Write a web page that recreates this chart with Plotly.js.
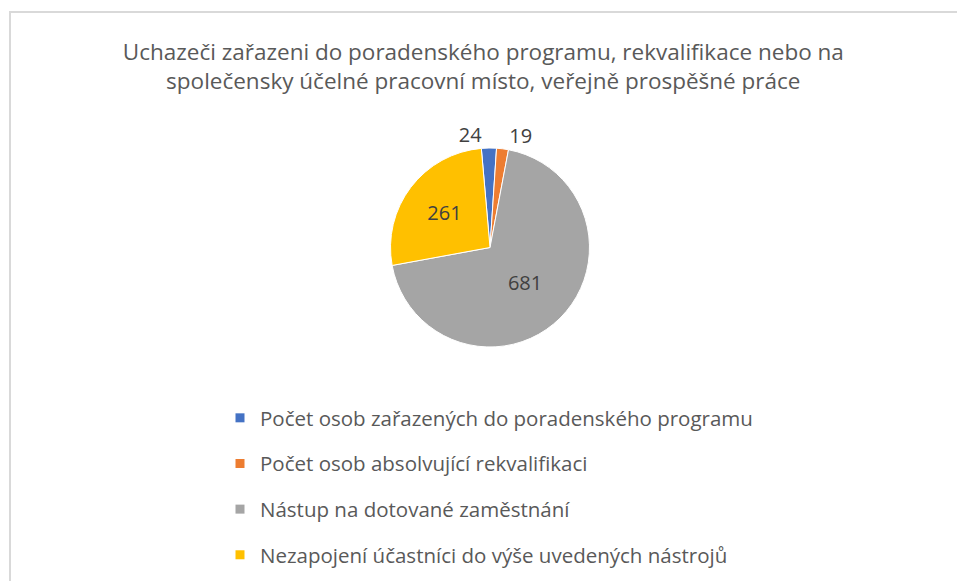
<!DOCTYPE html>
<html>
<head>
<meta charset="utf-8">
<script src="https://cdn.plot.ly/plotly-3.0.1.min.js"></script>
<style>
  html, body { margin: 0; padding: 0; background: #ffffff; }
  #frame { position: absolute; left: 9px; top: 11px; width: 1000px; height: 600px;
           border-left: 2px solid #d9d9d9; border-top: 2px solid #d9d9d9; }
  #chart { position: absolute; left: 0; top: 0; width: 957px; height: 581px; }
</style>
</head>
<body>
<div id="frame"></div>
<div id="chart"></div>
<script>
// ---- data ----
const categories = [
  "Počet osob zařazených do poradenského programu",
  "Počet osob absolvující rekvalifikaci",
  "Nástup na dotované zaměstnání",
  "Nezapojení účastníci do výše uvedených nástrojů"
];
const values = [24, 19, 681, 261];
const colors = ["#4472C4", "#ED7D31", "#A5A5A5", "#FFC000"];
const titleText = "Uchazeči zařazeni do poradenského programu, rekvalifikace nebo na<br>společensky účelné pracovní místo, veřejně prospěšné práce";

const W = 957, H = 581;
const FONT = "'Open Sans', 'Noto Sans', sans-serif";

const pieTrace = {
  type: "pie",
  labels: categories,
  values: values,
  sort: false,
  direction: "clockwise",
  rotation: -5,
  marker: { colors: colors, line: { color: "#ffffff", width: 1 } },
  textinfo: "value",
  textposition: ["outside", "outside", "inside", "inside"],
  insidetextorientation: "horizontal",
  textfont: { family: FONT, size: 20, color: "#404040" },
  outsidetextfont: { family: FONT, size: 20, color: "#404040" },
  insidetextfont: { family: FONT, size: 20, color: "#404040" },
  domain: { x: [390 / W, 590 / W], y: [1 - 347 / H, 1 - 148 / H] },
  showlegend: false,
  hoverinfo: "label+value"
};

// legend entries (one per category, each its own group so the gap matches)
const legendTraces = categories.map((c, i) => ({
  type: "scatter",
  mode: "markers",
  x: [null], y: [null],
  name: c,
  legendgroup: "g" + i,
  marker: { symbol: "square", size: 9, color: colors[i] },
  hoverinfo: "skip",
  showlegend: true
}));

const layout = {
  width: W, height: H,
  margin: { l: 0, r: 0, t: 0, b: 0 },
  paper_bgcolor: "rgba(0,0,0,0)",
  plot_bgcolor: "rgba(0,0,0,0)",
  xaxis: { visible: false },
  yaxis: { visible: false },
  title: {
    text: titleText,
    x: 0.505, xanchor: "center",
    y: 1 - 60 / H, yanchor: "middle", yref: "container",
    font: { family: FONT, size: 22.5, color: "#595959" }
  },
  showlegend: true,
  legend: {
    x: 220 / W, xanchor: "left",
    y: 1 - 398 / H, yanchor: "top",
    tracegroupgap: 16,
    font: { family: FONT, size: 20.5, color: "#595959" },
    bgcolor: "rgba(0,0,0,0)",
    itemclick: false, itemdoubleclick: false
  }
};

Plotly.newPlot("chart", [pieTrace].concat(legendTraces), layout, { displayModeBar: false, staticPlot: true });
</script>
</body>
</html>
